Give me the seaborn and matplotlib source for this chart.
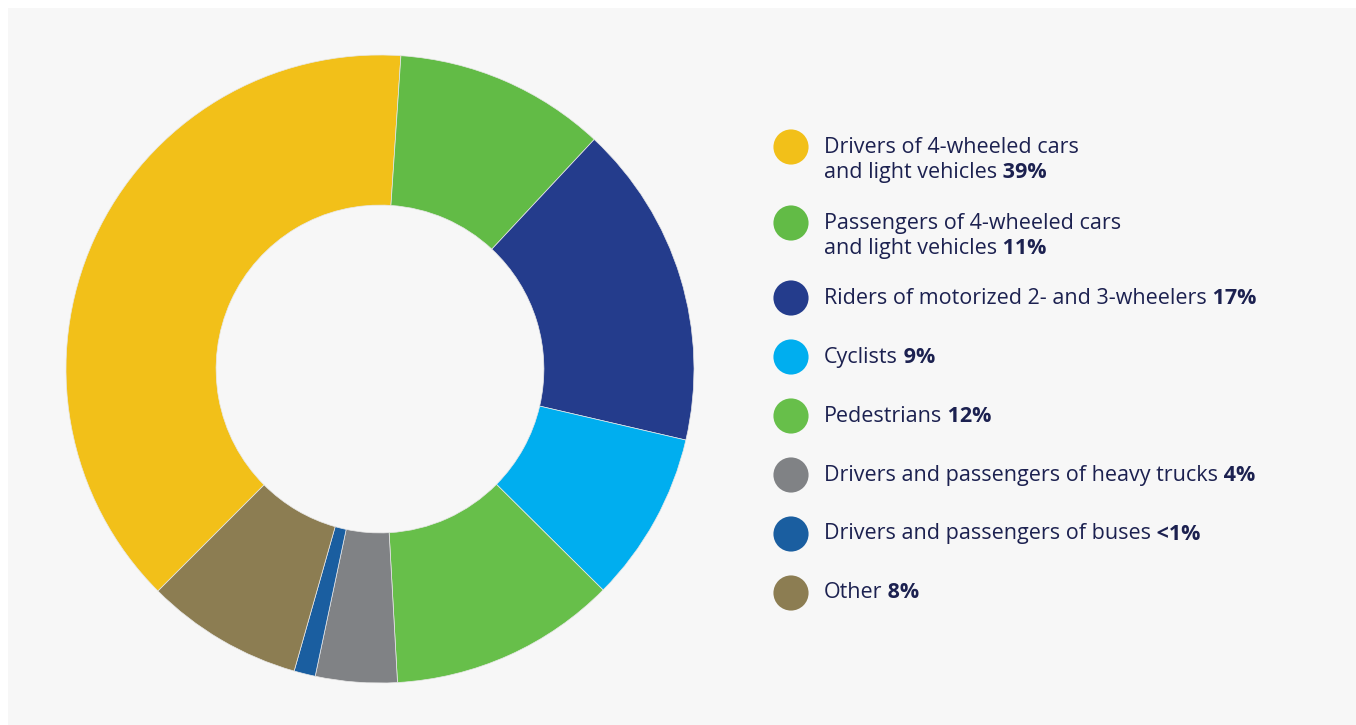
import matplotlib
matplotlib.use('Agg')
import matplotlib.pyplot as plt
import seaborn as sns

# data (slice sizes estimated from the ring, labels as printed)
categories = ['Drivers of 4-wheeled cars\nand light vehicles',
              'Passengers of 4-wheeled cars\nand light vehicles',
              'Riders of motorized 2- and 3-wheelers',
              'Cyclists',
              'Pedestrians',
              'Drivers and passengers of heavy trucks',
              'Drivers and passengers of buses',
              'Other']
shares = [38.6, 10.9, 16.7, 8.8, 11.7, 4.2, 1.1, 8.1]
share_labels = ['39%', '11%', '17%', '9%', '12%', '4%', '<1%', '8%']
colors = ['#f2c019', '#62bb46', '#243c8c', '#00aeef',
          '#67bf4a', '#808285', '#1a5ea0', '#8c7d52']

sns.set_theme(style='white')
plt.rcParams['font.family'] = ['Open Sans', 'DejaVu Sans']
bg = '#f7f7f7'
txt = '#1c2150'
palette = sns.color_palette(colors)

fig = plt.figure(figsize=(13.56, 7.25), dpi=100)
fig.patch.set_facecolor('white')

# light grey panel in its own axes underneath everything
bax = fig.add_axes([8 / 1356, 0, 1348 / 1356, 717 / 725], zorder=-5)
bax.set_facecolor(bg)
bax.set_xticks([])
bax.set_yticks([])
for s in bax.spines.values():
    s.set_visible(False)

ax = fig.add_axes([66 / 1356, 42 / 725, 628 / 1356, 628 / 725])
ax.set_facecolor('none')
ax.pie(shares, colors=palette, startangle=-135, counterclock=False,
       wedgeprops=dict(width=0.478, edgecolor='#e8e8e8', linewidth=0.5))
ax.set_xlim(-1, 1)
ax.set_ylim(-1, 1)
ax.set_aspect('equal')
ax.axis('off')

# legend drawn by hand: dot + plain text + bold share
lax = fig.add_axes([0, 0, 1, 1])
lax.set_xlim(0, 1356)
lax.set_ylim(725, 0)
lax.axis('off')

row_y = [147, 223, 298, 357, 416, 475, 534, 593]
for name, lab, col, y in zip(categories, share_labels, palette, row_y):
    lax.scatter(791, y, s=640, color=col, edgecolor='none')
    lines = name.split('\n')
    for i, line in enumerate(lines):
        ly = y + i * 25
        t = lax.text(824, ly, line, fontsize=15.5, color=txt, va='center', ha='left')
        if i == len(lines) - 1:
            lax.annotate(' ' + lab, xy=(1, 0), xycoords=t, va='bottom', ha='left',
                         fontsize=15.5, fontweight='bold', color=txt)

fig.savefig('out.png', dpi=100, facecolor=fig.get_facecolor())
